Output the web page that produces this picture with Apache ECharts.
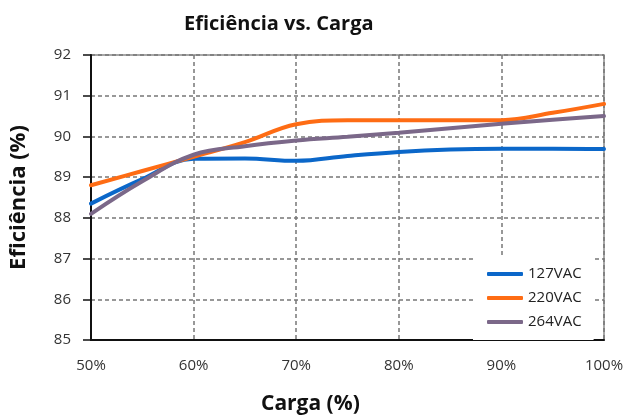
<!DOCTYPE html>
<html>
<head>
<meta charset="utf-8">
<script src="https://cdn.jsdelivr.net/npm/echarts@6/dist/echarts.min.js"></script>
<style>
  html, body { margin: 0; padding: 0; background: #fff; }
  #chart { width: 628px; height: 419px; }
</style>
</head>
<body>
<div id="chart"></div>
<script>
// Load levels (%) and measured efficiency (%) per input voltage
const carga = [50, 55, 60, 65, 70, 75, 80, 85, 90, 95, 100];
const ef127 = [88.35, 88.95, 89.45, 89.46, 89.40, 89.52, 89.62, 89.68, 89.70, 89.70, 89.69];
const ef220 = [88.80, 89.15, 89.50, 89.86, 90.30, 90.40, 90.40, 90.40, 90.40, 90.58, 90.80];
const ef264 = [88.10, 88.90, 89.55, 89.76, 89.90, 89.99, 90.09, 90.20, 90.31, 90.41, 90.50];

const seriesNames = ['127VAC', '220VAC', '264VAC'];
const seriesColors = ['#0b67c9', '#fe6c14', '#7b6889'];

const FONT = '"Open Sans", sans-serif';

function pairs(values) {
  return carga.map((c, i) => [c, values[i]]);
}

const chart = echarts.init(document.getElementById('chart'));
chart.setOption({
  animation: false,
  textStyle: { fontFamily: FONT },
  title: [
    {
      text: 'Eficiência vs. Carga',
      left: 179, top: 9,
      textStyle: { fontFamily: FONT, fontWeight: 'bold', fontSize: 20, color: '#111' }
    },
    {
      text: 'Carga (%)',
      left: 256, top: 389,
      textStyle: { fontFamily: FONT, fontWeight: 'bold', fontSize: 21, color: '#111' }
    }
  ],
  grid: {
    left: 91, right: 24, top: 55, bottom: 79,
    show: true, borderColor: '#8a8a8a', borderWidth: 1.5, backgroundColor: 'transparent'
  },
  legend: {
    orient: 'vertical',
    left: 473, top: 257,
    padding: [8, 12, 9, 14],
    backgroundColor: '#fff',
    itemWidth: 36, itemHeight: 4, itemGap: 6, itemTextGap: 9,
    icon: 'roundRect',
    data: seriesNames,
    textStyle: { fontFamily: FONT, fontSize: 15, color: '#222', lineHeight: 18 }
  },
  xAxis: {
    type: 'value', min: 50, max: 100, interval: 10,
    axisLine: { show: true, lineStyle: { color: '#111', width: 2 } },
    axisTick: { show: false },
    axisLabel: { formatter: '{value}%', fontSize: 15, color: '#333', margin: 18, fontFamily: FONT },
    splitLine: { show: true, lineStyle: { color: '#777', width: 1.5, type: [4, 3] } }
  },
  yAxis: {
    type: 'value', min: 85, max: 92, interval: 1,
    name: 'Eficiência (%)', nameLocation: 'middle', nameGap: 61,
    nameTextStyle: { fontFamily: FONT, fontWeight: 'bold', fontSize: 22, color: '#111' },
    axisLine: { show: true, lineStyle: { color: '#111', width: 2 } },
    axisTick: { show: true, length: 8, lineStyle: { color: '#111', width: 1.5 } },
    axisLabel: { fontSize: 15, color: '#333', margin: 20, fontFamily: FONT },
    splitLine: { show: true, lineStyle: { color: '#777', width: 1.5, type: [4, 3] } }
  },
  series: seriesNames.map((name, i) => ({
    name,
    type: 'line',
    smooth: 0.4,
    showSymbol: false,
    data: pairs([ef127, ef220, ef264][i]),
    lineStyle: { width: 4, color: seriesColors[i], cap: 'round' },
    itemStyle: { color: seriesColors[i] },
    z: 3 + i
  }))
});
</script>
</body>
</html>
